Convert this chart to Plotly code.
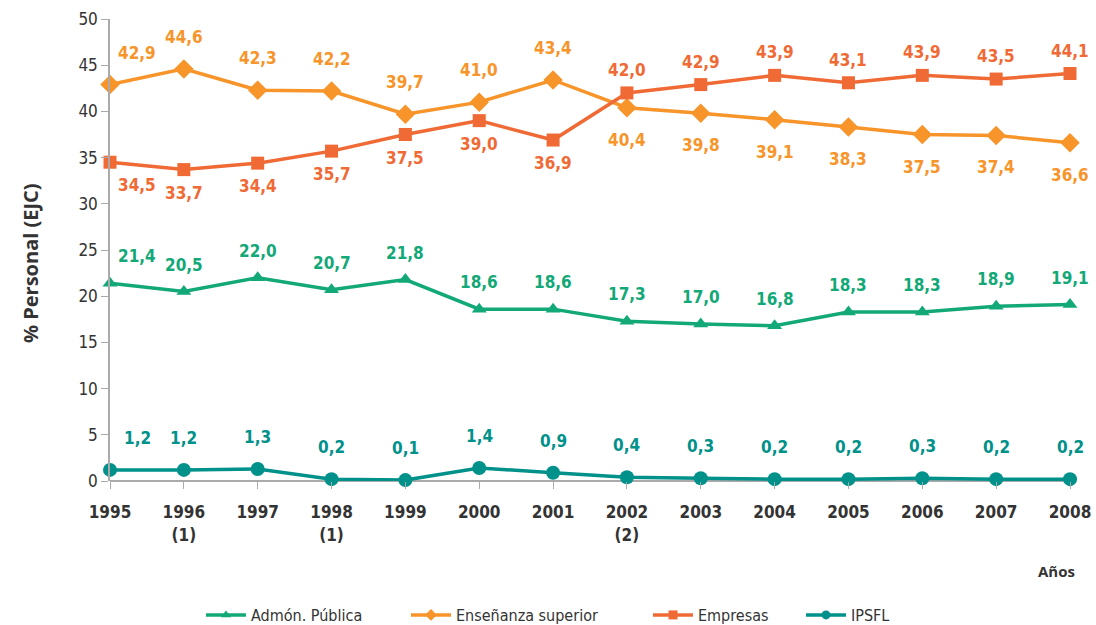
import plotly.graph_objects as go

years = ["1995", "1996<br>(1)", "1997", "1998<br>(1)", "1999", "2000", "2001",
         "2002<br>(2)", "2003", "2004", "2005", "2006", "2007", "2008"]
admon = [21.4, 20.5, 22.0, 20.7, 21.8, 18.6, 18.6, 17.3, 17.0, 16.8, 18.3, 18.3, 18.9, 19.1]
ensenanza = [42.9, 44.6, 42.3, 42.2, 39.7, 41.0, 43.4, 40.4, 39.8, 39.1, 38.3, 37.5, 37.4, 36.6]
empresas = [34.5, 33.7, 34.4, 35.7, 37.5, 39.0, 36.9, 42.0, 42.9, 43.9, 43.1, 43.9, 43.5, 44.1]
ipsfl = [1.2, 1.2, 1.3, 0.2, 0.1, 1.4, 0.9, 0.4, 0.3, 0.2, 0.2, 0.3, 0.2, 0.2]

xs = list(range(len(years)))

# name, values, colour, symbol, marker size, label direction, label offset, legend id, legend x (px)
series = [
    ("Admón. Pública", admon, "#13A877", "triangle-up", 13, [1] * 14, 27, "legend", 201),
    ("Enseñanza superior", ensenanza, "#F7942A", "diamond", 15, [1] * 7 + [-1] * 7, 32, "legend2", 406),
    ("Empresas", empresas, "#F06A35", "square", 13, [-1] * 7 + [1] * 7, 23, "legend3", 648),
    ("IPSFL", ipsfl, "#00918A", "circle", 14, [1] * 14, 32, "legend4", 801),
]

W, H = 1096, 625
L, R, T, B = 110, 26, 19, 144
PW, PH = W - L - R, H - T - B

FONT = "DejaVu Sans Condensed, DejaVu Sans, sans-serif"
TFONT = "Open Sans, DejaVu Sans, sans-serif"
fig = go.Figure()
annotations = []
for name, vals, color, sym, size, dirs, off, leg, lx in series:
    fig.add_trace(go.Scatter(
        x=xs, y=vals, name=name, mode="lines+markers", showlegend=False,
        line=dict(color=color, width=3.5),
        marker=dict(symbol=sym, size=size, color=color),
        cliponaxis=False,
    ))
    for i, (x, v) in enumerate(zip(xs, vals)):
        annotations.append(dict(
            x=x, y=v, xref="x", yref="y",
            text=f"{v:.1f}".replace(".", ","),
            showarrow=False,
            yshift=off * dirs[i],
            xshift=27 if i == 0 else 0,
            font=dict(family=FONT, size=17, color=color, weight="bold"),
        ))

legends = {}
for name, vals, color, sym, size, dirs, off, leg, lx in series:
    fig.add_trace(go.Scatter(
        x=[None], y=[None], name=name, mode="lines+markers", legend=leg,
        line=dict(color=color, width=3.5),
        marker=dict(symbol=sym, size=9, color=color),
    ))
    legends[leg] = dict(
        orientation="h", xref="container", yref="container",
        x=lx / W, xanchor="left",
        y=(H - 615) / H, yanchor="middle",
        font=dict(family=FONT, size=16, color="#333333"),
        itemwidth=40, bgcolor="rgba(0,0,0,0)",
    )


def px(x, y):
    return (x - L) / PW, (H - B - y) / PH


ax, ay = px(1077, 571)
annotations.append(dict(
    x=ax, y=ay, xref="paper", yref="paper", showarrow=False,
    text="<b>Años</b>", xanchor="right", yanchor="middle",
    font=dict(family=TFONT, size=15, color="#333333"),
))
tx, ty = px(30, 263)
annotations.append(dict(
    x=tx, y=ty, xref="paper", yref="paper", showarrow=False,
    text="<b>% Personal (EJC)</b>", textangle=-90,
    xanchor="center", yanchor="middle",
    font=dict(family=TFONT, size=20, color="#333333"),
))

fig.update_layout(
    width=W, height=H,
    margin=dict(l=L, r=R, t=T, b=B),
    plot_bgcolor="white", paper_bgcolor="white",
    font=dict(family=FONT, color="#333333"),
    annotations=annotations,
    xaxis=dict(
        tickmode="array", tickvals=xs, ticktext=[f"<b>{t}</b>" for t in years],
        range=[0, 13], showgrid=False, zeroline=False, automargin=False,
        showline=False, ticks="outside", ticklen=7, tickcolor="#aaaaaa",
        ticklabelstandoff=9,
        tickfont=dict(family=FONT, size=17, color="#333333"),
    ),
    yaxis=dict(
        range=[0, 50], dtick=5, showgrid=False, zeroline=True, automargin=False,
        zerolinecolor="#aaaaaa", zerolinewidth=1.5,
        showline=True, linecolor="#aaaaaa", linewidth=1.5,
        ticks="outside", ticklen=7, tickcolor="#aaaaaa",
        tickfont=dict(family=FONT, size=17, color="#333333"),
    ),
    **legends,
)

fig.write_html("out.html", config={"displayModeBar": False},
               post_script="document.body.style.margin='0';")
